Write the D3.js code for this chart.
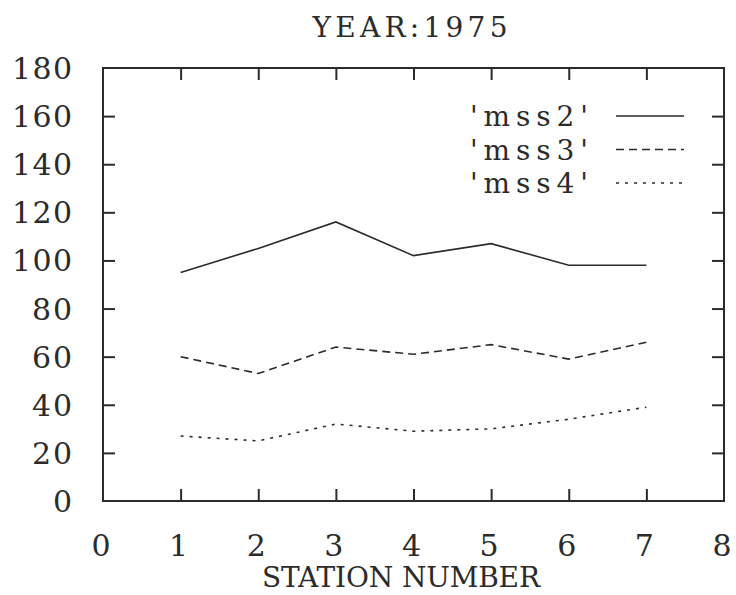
<!DOCTYPE html>
<html>
<head>
<meta charset="utf-8">
<script src="https://cdn.jsdelivr.net/npm/d3@7"></script>
<style>
body { margin: 0; background: #fff; }
svg text { font-family: "DejaVu Serif", "Liberation Serif", serif; fill: #2b2b2b; }
</style>
</head>
<body>
<svg id="svg" width="736" height="595"></svg>
<script>
var stations = [1, 2, 3, 4, 5, 6, 7];
var mss2 = [95, 105, 116, 102, 107, 98, 98];
var mss3 = [60, 53, 64, 61, 65, 59, 66];
var mss4 = [27, 25, 32, 29, 30, 34, 39];
var xTicks = [0, 1, 2, 3, 4, 5, 6, 7, 8];
var yTicks = [0, 20, 40, 60, 80, 100, 120, 140, 160, 180];
var seriesNames = ["'mss2'", "'mss3'", "'mss4'"];

var svg = d3.select("svg");
var x = d3.scaleLinear().domain([0, 8]).range([103, 724]);
var y = d3.scaleLinear().domain([0, 180]).range([501, 68]);

var ink = "#2b2b2b";
var dashes = [null, "8,5", "3,6"];

// frame
svg.append("rect")
    .attr("x", x(0)).attr("y", y(180))
    .attr("width", x(8) - x(0)).attr("height", y(0) - y(180))
    .attr("fill", "none").attr("stroke", ink).attr("stroke-width", 2);

// inward ticks on all four sides
var inner = xTicks.filter(function(d) { return d > 0 && d < 8; });
var innerY = yTicks.filter(function(d) { return d > 0 && d < 180; });
svg.append("g").attr("transform", "translate(0," + y(0) + ")")
    .call(d3.axisTop(x).tickValues(inner).tickSize(12).tickFormat(""))
    .call(function(g) { g.select(".domain").remove(); });
svg.append("g").attr("transform", "translate(0," + y(180) + ")")
    .call(d3.axisBottom(x).tickValues(inner).tickSize(12).tickFormat(""))
    .call(function(g) { g.select(".domain").remove(); });
svg.append("g").attr("transform", "translate(" + x(0) + ",0)")
    .call(d3.axisRight(y).tickValues(innerY).tickSize(12).tickFormat(""))
    .call(function(g) { g.select(".domain").remove(); });
svg.append("g").attr("transform", "translate(" + x(8) + ",0)")
    .call(d3.axisLeft(y).tickValues(innerY).tickSize(12).tickFormat(""))
    .call(function(g) { g.select(".domain").remove(); });
svg.selectAll(".tick line").attr("stroke", ink).attr("stroke-width", 2);

// tick labels
svg.selectAll(".xlab").data(xTicks).enter().append("text")
    .attr("x", function(d) { return x(d) - 2; })
    .attr("y", 556)
    .attr("text-anchor", "middle")
    .attr("font-size", 30)
    .text(function(d) { return d; });
svg.selectAll(".ylab").data(yTicks).enter().append("text")
    .attr("x", 72)
    .attr("y", function(d) { return y(d) + 11; })
    .attr("text-anchor", "end")
    .attr("font-size", 30)
    .attr("textLength", function(d) { return String(d).length * 20; })
    .attr("lengthAdjust", "spacing")
    .text(function(d) { return d; });

// titles
svg.append("text").attr("x", 410).attr("y", 37)
    .attr("text-anchor", "middle").attr("font-size", 28)
    .attr("textLength", 195).attr("lengthAdjust", "spacing")
    .text("YEAR:1975");
svg.append("text").attr("x", 401).attr("y", 587)
    .attr("text-anchor", "middle").attr("font-size", 28)
    .attr("textLength", 278).attr("lengthAdjust", "spacing")
    .text("STATION NUMBER");

// series
var line = d3.line()
    .x(function(d, i) { return x(stations[i]); })
    .y(function(d) { return y(d); });
[mss2, mss3, mss4].forEach(function(s, k) {
    svg.append("path")
        .attr("d", line(s))
        .attr("fill", "none")
        .attr("stroke", ink)
        .attr("stroke-width", 1.6)
        .attr("stroke-dasharray", dashes[k]);
});

// legend
seriesNames.forEach(function(name, k) {
    var ly = 116 + k * 33.5;
    svg.append("text").attr("x", 588).attr("y", ly + 10)
        .attr("text-anchor", "end").attr("font-size", 28)
        .attr("textLength", 118).attr("lengthAdjust", "spacing")
        .text(name);
    svg.append("line")
        .attr("x1", 616).attr("x2", 684).attr("y1", ly).attr("y2", ly)
        .attr("stroke", ink).attr("stroke-width", 1.6)
        .attr("stroke-dasharray", dashes[k]);
});
</script>
</body>
</html>
